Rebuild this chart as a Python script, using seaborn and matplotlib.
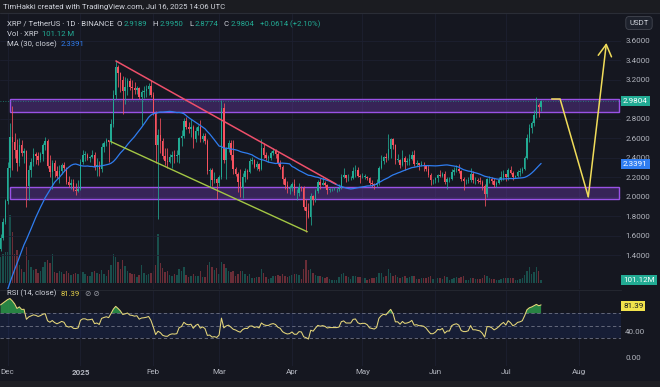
import numpy as np
import pandas as pd
import matplotlib
matplotlib.use("Agg")
import matplotlib.pyplot as plt
import matplotlib.dates as mdates
from matplotlib.patches import Rectangle
from matplotlib.lines import Line2D
from matplotlib.transforms import blended_transform_factory
import seaborn as sns

# ---- XRP / USDT daily candles, 2024-11-28 .. 2025-07-16 ----
first_open = 1.47
close = [
    1.58, 1.74, 1.96,  # Nov 28-30
    2.30, 2.62, 2.56, 2.48, 2.35, 2.53, 2.45, 2.47, 2.11, 2.28, 2.36, 2.44, 2.42, 2.38, 2.44, 2.53,
    2.57, 2.32, 2.26, 2.35, 2.27, 2.22, 2.27, 2.33, 2.30, 2.15, 2.12, 2.14, 2.07, 2.06, 2.08,  # Dec
    2.36, 2.43, 2.43, 2.40, 2.41, 2.43, 2.31, 2.33, 2.29, 2.51, 2.55, 2.58, 2.56, 2.75, 3.05, 3.33,
    3.27, 3.20, 3.09, 3.13, 3.19, 3.13, 3.12, 3.10, 3.12, 3.03, 3.08, 3.09, 3.11, 3.14, 3.05,  # Jan
    2.86, 2.53, 2.64, 2.57, 2.42, 2.37, 2.36, 2.41, 2.43, 2.42, 2.43, 2.60, 2.63, 2.78,
    2.72, 2.70, 2.72, 2.59, 2.68, 2.72, 2.59, 2.63, 2.57, 2.27, 2.28, 2.17, 2.18, 2.14,  # Feb
    2.20, 2.91, 2.38, 2.50, 2.55, 2.43, 2.29, 2.24, 2.15, 2.09, 2.21, 2.27, 2.26, 2.37, 2.38, 2.31,
    2.34, 2.29, 2.50, 2.43, 2.40, 2.40, 2.45, 2.47, 2.44, 2.35, 2.31, 2.18, 2.12, 2.08, 2.09,  # Mar
    2.13, 2.04, 2.04, 2.10, 2.09, 1.90, 1.86, 1.79, 2.01, 1.97, 2.06, 2.15, 2.12, 2.14, 2.12,
    2.07, 2.08, 2.08, 2.08, 2.08, 2.09, 2.21, 2.23, 2.19, 2.19, 2.19, 2.27, 2.28, 2.22, 2.20,  # Apr
    2.21, 2.21, 2.19, 2.14, 2.13, 2.12, 2.14, 2.30, 2.37, 2.41, 2.40, 2.49, 2.59, 2.53, 2.38, 2.38,
    2.33, 2.40, 2.36, 2.37, 2.39, 2.43, 2.34, 2.35, 2.33, 2.33, 2.32, 2.29, 2.23, 2.17, 2.17,  # May
    2.19, 2.23, 2.22, 2.24, 2.15, 2.18, 2.18, 2.26, 2.28, 2.29, 2.27, 2.18, 2.16, 2.16, 2.17,
    2.24, 2.17, 2.17, 2.16, 2.15, 2.11, 2.03, 2.18, 2.18, 2.16, 2.12, 2.14, 2.17, 2.21, 2.24,  # Jun
    2.20, 2.28, 2.25, 2.20, 2.22, 2.26, 2.27, 2.29, 2.40, 2.61, 2.71, 2.76, 2.84, 2.94, 2.9189, 2.9804,  # Jul
]
high = [
    1.62, 1.78, 1.98,
    2.36, 2.76, 2.93, 2.66, 2.59, 2.60, 2.58, 2.50, 2.48, 2.33, 2.40, 2.50, 2.46, 2.46, 2.46, 2.55,
    2.62, 2.59, 2.43, 2.38, 2.38, 2.32, 2.33, 2.35, 2.36, 2.31, 2.22, 2.18, 2.18, 2.14, 2.17,
    2.39, 2.48, 2.47, 2.45, 2.42, 2.48, 2.46, 2.40, 2.37, 2.55, 2.57, 2.60, 2.58, 2.80, 3.10, 3.40,
    3.35, 3.28, 3.24, 3.23, 3.22, 3.22, 3.20, 3.18, 3.14, 3.13, 3.10, 3.14, 3.15, 3.17, 3.20,
    3.08, 2.88, 2.70, 2.81, 2.60, 2.50, 2.50, 2.44, 2.47, 2.48, 2.48, 2.62, 2.69, 2.81,
    2.82, 2.77, 2.80, 2.74, 2.72, 2.74, 2.79, 2.66, 2.66, 2.59, 2.30, 2.30, 2.26, 2.19,
    2.23, 2.99, 2.96, 2.51, 2.58, 2.58, 2.58, 2.31, 2.26, 2.29, 2.25, 2.30, 2.29, 2.40, 2.41, 2.39,
    2.37, 2.35, 2.59, 2.55, 2.46, 2.43, 2.47, 2.50, 2.49, 2.46, 2.38, 2.33, 2.20, 2.16, 2.12,
    2.15, 2.18, 2.08, 2.14, 2.11, 2.11, 1.98, 1.94, 2.04, 2.02, 2.08, 2.17, 2.19, 2.21, 2.16,
    2.13, 2.09, 2.09, 2.10, 2.09, 2.13, 2.24, 2.30, 2.23, 2.24, 2.22, 2.31, 2.33, 2.31, 2.24,
    2.25, 2.24, 2.22, 2.20, 2.17, 2.14, 2.18, 2.32, 2.43, 2.42, 2.45, 2.65, 2.60, 2.61, 2.54, 2.44,
    2.39, 2.48, 2.42, 2.40, 2.44, 2.47, 2.48, 2.38, 2.35, 2.37, 2.36, 2.33, 2.33, 2.25, 2.18,
    2.20, 2.24, 2.28, 2.26, 2.27, 2.20, 2.20, 2.29, 2.31, 2.33, 2.34, 2.28, 2.20, 2.18, 2.20,
    2.30, 2.27, 2.20, 2.19, 2.20, 2.17, 2.13, 2.19, 2.22, 2.20, 2.19, 2.16, 2.20, 2.27, 2.28,
    2.24, 2.30, 2.32, 2.27, 2.23, 2.28, 2.30, 2.31, 2.42, 2.65, 2.75, 2.78, 2.89, 3.03, 2.96, 2.995,
]
low = [
    1.45, 1.56, 1.72,
    1.93, 2.20, 2.28, 2.40, 2.27, 2.32, 2.42, 2.35, 1.90, 1.97, 2.20, 2.32, 2.34, 2.33, 2.36, 2.37,
    2.48, 2.30, 2.21, 2.08, 2.20, 2.19, 2.14, 2.24, 2.27, 2.13, 2.10, 2.08, 2.06, 2.02, 2.05,
    2.07, 2.34, 2.37, 2.38, 2.36, 2.40, 2.28, 2.22, 2.22, 2.26, 2.46, 2.52, 2.36, 2.54, 2.72, 3.00,
    3.13, 3.08, 2.85, 2.95, 3.05, 3.10, 3.00, 3.06, 3.06, 3.01, 2.74, 3.02, 3.03, 3.05, 3.03,
    2.84, 2.35, 1.77, 2.45, 2.39, 2.33, 2.30, 2.35, 2.30, 2.35, 2.36, 2.35, 2.52, 2.61,
    2.70, 2.66, 2.62, 2.50, 2.56, 2.64, 2.56, 2.56, 2.54, 2.24, 2.10, 2.11, 2.14, 1.98,
    2.11, 2.18, 2.35, 2.18, 2.46, 2.38, 2.24, 2.22, 2.05, 2.00, 1.99, 2.15, 2.18, 2.25, 2.34, 2.30,
    2.28, 2.27, 2.28, 2.40, 2.38, 2.36, 2.38, 2.43, 2.40, 2.33, 2.29, 2.13, 2.08, 2.04, 2.03,
    2.06, 2.02, 1.97, 2.01, 2.06, 1.87, 1.64, 1.78, 1.71, 1.92, 1.95, 2.04, 2.08, 2.12, 2.10,
    2.03, 2.05, 2.06, 2.07, 2.05, 2.06, 2.08, 2.19, 2.15, 2.16, 2.17, 2.18, 2.21, 2.20, 2.14,
    2.19, 2.18, 2.17, 2.12, 2.10, 2.08, 2.10, 2.12, 2.29, 2.34, 2.36, 2.38, 2.40, 2.49, 2.34, 2.36,
    2.30, 2.32, 2.28, 2.33, 2.33, 2.38, 2.32, 2.32, 2.28, 2.32, 2.27, 2.27, 2.20, 2.12, 2.13,
    2.14, 2.15, 2.20, 2.20, 2.13, 2.08, 2.15, 2.17, 2.23, 2.26, 2.25, 2.16, 2.07, 2.13, 2.14,
    2.15, 2.14, 2.13, 2.14, 2.13, 2.07, 1.91, 2.00, 2.14, 2.13, 2.10, 2.10, 2.13, 2.16, 2.17,
    2.16, 2.17, 2.24, 2.17, 2.19, 2.21, 2.22, 2.25, 2.28, 2.39, 2.56, 2.66, 2.73, 2.81, 2.82, 2.8774,
]
# volume, millions of XRP
volume = [
    900, 1000, 1100,
    1100, 2380, 1780, 1020, 1150, 630, 490, 385, 1260, 800, 560, 455, 490, 350, 420, 560,
    735, 800, 700, 1015, 385, 350, 420, 380, 300, 420, 350, 280, 300, 350, 330,
    420, 380, 300, 250, 230, 400, 420, 350, 330, 450, 300, 260, 450, 630, 1015, 910,
    735, 490, 800, 600, 420, 350, 330, 300, 220, 280, 630, 350, 280, 300, 350,
    420, 630, 1715, 700, 525, 400, 420, 280, 250, 300, 280, 490, 420, 560,
    280, 220, 260, 300, 250, 260, 420, 200, 220, 630, 735, 560, 450, 520,
    300, 735, 665, 525, 420, 380, 420, 250, 300, 420, 420, 300, 230, 300, 180, 180,
    200, 220, 490, 350, 220, 150, 170, 250, 230, 280, 230, 320, 250, 200, 250,
    280, 300, 320, 280, 150, 490, 800, 455, 490, 350, 280, 250, 230, 220, 180,
    200, 150, 100, 90, 120, 200, 320, 350, 250, 220, 150, 230, 260, 210, 200,
    180, 170, 120, 150, 160, 170, 200, 350, 350, 220, 240, 490, 350, 260, 280, 200,
    180, 220, 240, 180, 220, 230, 240, 130, 150, 180, 190, 170, 220, 240, 150,
    150, 170, 160, 150, 230, 200, 120, 140, 190, 200, 190, 200, 230, 110, 100,
    190, 170, 150, 130, 140, 180, 280, 260, 180, 150, 140, 120, 110, 150, 170,
    170, 180, 160, 170, 100, 110, 150, 160, 280, 420, 560, 315, 385, 560, 420, 101.12,
]
# closes before the first candle, only used to warm up MA(30) and RSI(14)
warmup_close = [
    0.524, 0.519, 0.508, 0.511, 0.509, 0.505, 0.506, 0.512, 0.543, 0.550, 0.557, 0.571, 0.629, 0.627, 0.650,
    0.716, 0.795, 0.905, 1.105, 1.069, 1.132, 1.100, 1.103, 1.130, 1.460, 1.530, 1.440, 1.440, 1.410, 1.470,
]

# header values
last_close = 2.9804
ma_last = 2.3391
vol_last = 101.12
rsi_last = 81.39

# analyst drawings (date, price)
zones = [("2024-12-02", "2025-08-18", 2.872, 3.004), ("2024-12-02", "2025-08-18", 1.977, 2.106)]
red_trend = (["2025-01-16 02:00", "2025-04-19 17:00"], [3.395, 2.133])
green_trend = (["2025-01-14 00:00", "2025-04-07 12:00"], [2.567, 1.644])
path_dates = ["2025-07-20 12:00", "2025-07-24 02:00", "2025-08-05 02:00"]
path_prices = [3.005, 3.005, 2.003]
arrow_tip = ("2025-08-12 19:00", 3.58)

month_ticks = pd.date_range("2024-12-01", "2025-08-01", freq="MS")
month_labels = ["Dec", "2025", "Feb", "Mar", "Apr", "May", "Jun", "Jul", "Aug"]
price_ticks = [1.4, 1.6, 1.8, 2.0, 2.2, 2.4, 2.6, 2.8, 3.2, 3.4, 3.6]

# ---- derived series ----
dates = pd.date_range("2024-11-28", periods=len(close), freq="D")
df = pd.DataFrame({"date": dates, "close": close, "high": high, "low": low, "volume": volume})
df["open"] = [first_open] + close[:-1]
o = df["open"].to_numpy()
c = df["close"].to_numpy()
hi = np.maximum(df["high"].to_numpy(), np.maximum(o, c))
lo = np.minimum(df["low"].to_numpy(), np.minimum(o, c))

full = pd.Series(warmup_close + close)
n0 = len(warmup_close)
ma = full.rolling(30).mean().iloc[n0:].to_numpy()
delta = full.diff()
gain = delta.clip(lower=0).ewm(alpha=1 / 14, adjust=False).mean()
loss = (-delta).clip(lower=0).ewm(alpha=1 / 14, adjust=False).mean()
rsi = (100 - 100 / (1 + gain / loss)).iloc[n0:].to_numpy()

x = mdates.date2num(dates)
d2n = lambda s: mdates.date2num(pd.Timestamp(s))

# ---- style ----
sns.set_theme(style="dark")
plt.rcParams["font.family"] = ["Roboto", "DejaVu Sans"]

BG = "#151720"
GRID = "#1d2030"
TXT = "#d1d4dc"
AXTXT = "#b2b5be"
UP = "#22ab94"
DOWN = "#f7525f"
BLUE = "#2f7df0"
YELLOW = "#f0dc5a"

W, H = 660, 387
fig = plt.figure(figsize=(6.6, 3.87), dpi=100)
fig.patch.set_facecolor(BG)


def rect(x0, y0, x1, y1):
    return [x0 / W, 1 - y1 / H, (x1 - x0) / W, (y1 - y0) / H]


ax_vol = fig.add_axes(rect(0, 13, 621, 289))
ax = fig.add_axes(rect(0, 13, 621, 289), sharex=ax_vol)
ax_rsi = fig.add_axes(rect(0, 290, 621, 366), sharex=ax_vol)
ax.patch.set_visible(False)
for a in (ax_vol, ax, ax_rsi):
    a.set_facecolor(BG)
    for s in a.spines.values():
        s.set_visible(False)

x_left = d2n("2024-12-01") - 3.23
x_right = d2n("2024-12-01") + 261.0
ax.set_xlim(x_left, x_right)
ax.set_ylim(1.0564, 3.887)
ax_vol.set_ylim(-6 * 35, 270 * 35)
ax_rsi.set_ylim(-14.4, 107.2)

# volume
col = np.where(c >= o, UP, DOWN)
ax_vol.bar(x, df["volume"], width=0.62, color=col, alpha=0.38, linewidth=0)
ax_vol.set_yticks([])
ax_vol.tick_params(axis="x", labelbottom=False, length=0)

# zones under candles
for start, end, zlo, zhi in zones:
    ax.add_patch(Rectangle((d2n(start), zlo), d2n(end) - d2n(start), zhi - zlo,
                           facecolor=(0.49, 0.25, 0.79, 0.33), edgecolor="#9a52e6",
                           linewidth=1.0, zorder=1))

# candles
ax.vlines(x, lo, hi, colors=col, linewidth=0.55, zorder=3)
ax.bar(x, np.maximum(np.abs(c - o), 0.006), bottom=np.minimum(o, c), width=0.62,
       color=col, linewidth=0, zorder=4)

# MA(30)
sns.lineplot(x=x, y=ma, ax=ax, color=BLUE, linewidth=0.9, zorder=5)

# trendlines and projection
ax.plot([d2n(d) for d in red_trend[0]], red_trend[1], color="#ee4f6a", linewidth=1.1, zorder=6)
ax.plot([d2n(d) for d in green_trend[0]], green_trend[1], color="#a3c644", linewidth=1.0, zorder=6)
ax.plot([d2n(d) for d in path_dates], path_prices, color=YELLOW, linewidth=1.1, zorder=6)
ax.annotate("", xy=(d2n(arrow_tip[0]), arrow_tip[1]), xytext=(d2n(path_dates[-1]), path_prices[-1]),
            arrowprops=dict(arrowstyle="->,head_length=0.7,head_width=0.4", color=YELLOW,
                            lw=1.1, shrinkA=0, shrinkB=0), zorder=6)
ax.axhline(last_close, color=UP, linewidth=0.6, linestyle=(0, (1, 2)), alpha=0.8, zorder=2)

# price axis
ax.yaxis.tick_right()
ax.set_yticks(price_ticks)
ax.set_yticklabels([f"{v:.4f}" for v in price_ticks])
ax.tick_params(axis="y", length=0, pad=3, labelsize=5.8, labelcolor=AXTXT)
ax.tick_params(axis="x", labelbottom=False, length=0)
ax.grid(True, color=GRID, linewidth=0.6)
ax.set_xlabel("")
ax.set_ylabel("")

# RSI pane
ax_rsi.axhspan(30, 70, color="#2962ff", alpha=0.10, linewidth=0)
for lvl in (70, 50, 30):
    ax_rsi.axhline(lvl, color="#6f7385", linewidth=0.6, linestyle=(0, (4, 3)))
ax_rsi.fill_between(x, 70, rsi, where=rsi > 70, interpolate=True, color="#2fa84f",
                    alpha=0.75, linewidth=0)
sns.lineplot(x=x, y=rsi, ax=ax_rsi, color="#e6d77a", linewidth=0.75)
ax_rsi.yaxis.tick_right()
ax_rsi.set_yticks([0, 40])
ax_rsi.set_yticklabels(["0.00", "40.00"])
ax_rsi.tick_params(axis="y", length=0, pad=3, labelsize=5.8, labelcolor=AXTXT)
ax_rsi.set_xticks(mdates.date2num(month_ticks))
ax_rsi.set_xticklabels(month_labels)
ax_rsi.tick_params(axis="x", length=0, pad=2.2, labelsize=5.8, labelcolor=AXTXT)
for t in ax_rsi.get_xticklabels():
    if t.get_text() == "2025":
        t.set_fontweight("bold")
ax_rsi.grid(True, axis="x", color=GRID, linewidth=0.6)
ax_rsi.set_xlabel("")
ax_rsi.set_ylabel("")
ax.set_xlim(x_left, x_right)


def axis_label(a, y, text, fc, tc="white"):
    tr = blended_transform_factory(a.transAxes, a.transData)
    a.text(1 + 2 / 621, y, text, transform=tr, fontsize=5.8, color=tc, va="center", ha="left",
           bbox=dict(boxstyle="square,pad=0.25", fc=fc, ec="none"), clip_on=False, zorder=10)


axis_label(ax, last_close, f"{last_close:.4f}", UP)
axis_label(ax, ma_last, f"{ma_last:.4f}", BLUE)
axis_label(ax_vol, vol_last, f"{vol_last:.2f}M", UP)
axis_label(ax_rsi, rsi_last, f"{rsi_last:.2f}", "#f2e34c", tc="#131722")

# frame, header strip, bottom strip
fig.patches.append(Rectangle((0, 1 - 12.5 / H), 1, 12.5 / H, transform=fig.transFigure,
                             facecolor="#1b1c21", edgecolor="none", zorder=0))
fig.patches.append(Rectangle((0, 0), 1, 6 / H, transform=fig.transFigure,
                             facecolor="#1e1f24", edgecolor="none", zorder=0))
fig.add_artist(Line2D([0, 1], [1 - 12.5 / H] * 2, color="#2a2d36", linewidth=0.8))
fig.add_artist(Line2D([0, 621 / W], [1 - 289.5 / H] * 2, color="#23262f", linewidth=0.8))

fig.text(3 / W, 1 - 6.5 / H, "TimHakki created with TradingView.com, Jul 16, 2025 14:06 UTC",
         color=TXT, fontsize=5.6, va="center")
fig.text(639 / W, 1 - 23 / H, "USDT", color=TXT, fontsize=5.6, va="center", ha="center",
         bbox=dict(boxstyle="round,pad=0.45", fc="#1e222d", ec="#434651", lw=0.6))

renderer = fig.canvas.get_renderer()


def chain(x_px, y_px, parts, size=5.6):
    for text, color, gap in parts:
        t = fig.text(x_px / W, 1 - y_px / H, text, color=color, fontsize=size, va="center",
                     family=["Roboto", "DejaVu Sans"])
        x_px += t.get_window_extent(renderer).width + gap


chain(7, 24, [("XRP / TetherUS · 1D · BINANCE", TXT, 3), ("O", TXT, 1), ("2.9189", UP, 6),
              ("H", TXT, 1), ("2.9950", UP, 6), ("L", TXT, 1), ("2.8774", UP, 6),
              ("C", TXT, 1), ("2.9804", UP, 6), ("+0.0614 (+2.10%)", UP, 0)])
chain(7, 34, [("Vol · XRP", TXT, 4), ("101.12 M", UP, 0)])
chain(7, 44, [("MA (30, close)", TXT, 4), ("2.3391", BLUE, 0)])
chain(7, 293.5, [("RSI (14, close)", TXT, 4), ("81.39", "#e6d14a", 5), ("⊘ ⊘", "#9598a1", 0)])

fig.savefig("out.png", dpi=100, facecolor=fig.get_facecolor())
